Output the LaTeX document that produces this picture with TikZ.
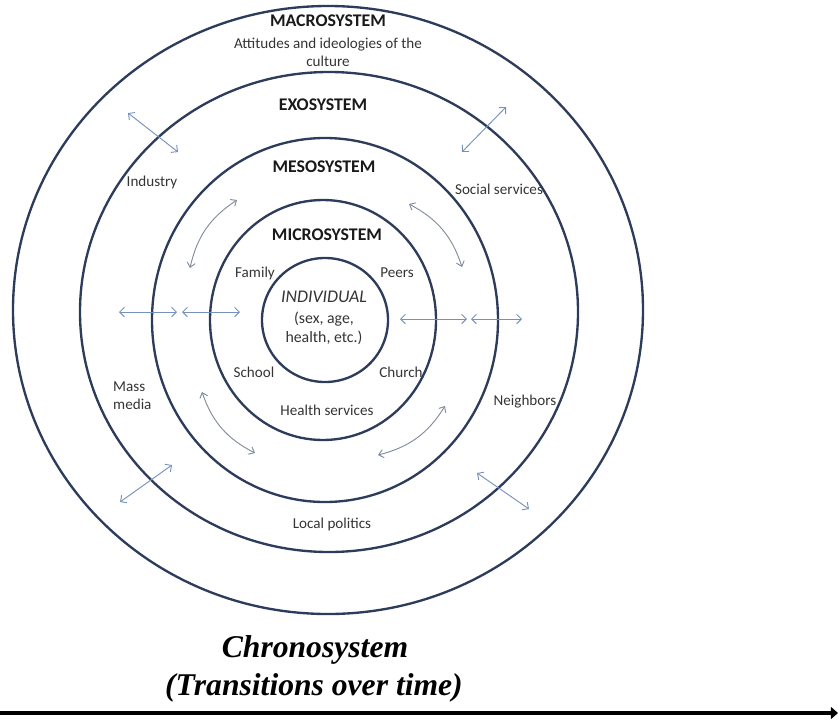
\documentclass[tikz,border=0pt]{standalone}
\usepackage{fontspec}
\setmainfont{Carlito}
\newfontfamily\timesfont{Liberation Serif}
\usetikzlibrary{arrows.meta,calc}

\definecolor{ring}{RGB}{46,60,92}
\definecolor{linkblue}{RGB}{118,146,186}
\definecolor{linkgray}{RGB}{130,140,156}
\definecolor{headtext}{RGB}{25,25,25}
\definecolor{labeltext}{RGB}{52,52,52}

\tikzset{
  ringline/.style={draw=ring, line width=2pt},
  heading/.style={font=\fontsize{15.2}{18}\selectfont\bfseries, text=headtext, inner sep=0pt},
  label/.style={font=\fontsize{12.9}{15.4}\selectfont, text=labeltext, inner sep=0pt, align=center},
  tie/.style={draw=linkblue, line width=0.8pt, {Straight Barb[length=4pt,width=8pt]}-{Straight Barb[length=4pt,width=8pt]}},
  swing/.style={draw=linkgray, line width=0.8pt, {Straight Barb[length=4pt,width=7pt]}-{Straight Barb[length=4pt,width=7pt]}},
  chrono/.style={font=\timesfont\fontsize{27}{32}\selectfont\bfseries\itshape, inner sep=0pt}
}

\begin{document}
\begin{tikzpicture}[x=0.03cm,y=-0.03cm]
\useasboundingbox (0,0) rectangle (838,719);

% nested system rings
\draw[ringline] (328,310) ellipse[x radius=315, y radius=304];
\draw[ringline] (329,312) ellipse[x radius=249, y radius=240];
\draw[ringline] (325,320) ellipse[x radius=173, y radius=182];
\draw[ringline] (323,320) ellipse[x radius=113, y radius=120];
\draw[ringline] (325,320) ellipse[x radius=63, y radius=62];

% ring headings
\node[heading] (macro) at (328,21) {MACROSYSTEM};
\node[label] (macrotxt) at (328,52) {Attitudes and ideologies of the\\culture};
\node[heading] (exo) at (323,105) {EXOSYSTEM};
\node[heading] (meso) at (324,167) {MESOSYSTEM};
\node[heading] (micro) at (327,235) {MICROSYSTEM};

% centre
\node[font=\fontsize{15.2}{18}\selectfont\itshape, text=labeltext, inner sep=0pt] (indiv) at (324,297) {INDIVIDUAL};
\node[label, font=\fontsize{13.5}{16.5}\selectfont] (traits) at (324,328) {(sex, age,\\health, etc.)};

% microsystem settings
\node[label] (family) at (255,273) {Family};
\node[label] (peers) at (397,273) {Peers};
\node[label] (school) at (254,372) {School};
\node[label] (church) at (401,372) {Church};
\node[label] (health) at (327,410) {Health services};

% exosystem settings
\node[label] (industry) at (152,182) {Industry};
\node[label] (social) at (499,189) {Social services};
\node[label, align=left, anchor=west] (media) at (113,396) {Mass\\media};
\node[label] (neigh) at (525,402) {Neighbors};
\node[label] (politics) at (332,524) {Local politics};

% straight two-way links
\coordinate (ind1) at (128,113); \coordinate (ind2) at (178,152);
\coordinate (soc1) at (462,152); \coordinate (soc2) at (506,107);
\coordinate (mm1) at (120,502); \coordinate (mm2) at (172,465);
\coordinate (nb1) at (477,473); \coordinate (nb2) at (529,509);
\coordinate (hl1) at (119,312); \coordinate (hl2) at (177,312);
\coordinate (hl3) at (182,312); \coordinate (hl4) at (240,312);
\coordinate (hr1) at (400,319); \coordinate (hr2) at (467,319);
\coordinate (hr3) at (471,319); \coordinate (hr4) at (522,319);
\draw[tie] (ind1) -- (ind2);
\draw[tie] (soc1) -- (soc2);
\draw[tie] (mm1) -- (mm2);
\draw[tie] (nb1) -- (nb2);
\draw[tie] (hl1) -- (hl2);
\draw[tie] (hl3) -- (hl4);
\draw[tie] (hr1) -- (hr2);
\draw[tie] (hr3) -- (hr4);

% curved links around the mesosystem
\coordinate (ula) at (190,268); \coordinate (ulb) at (237,200);
\coordinate (ura) at (409,204); \coordinate (urb) at (462,267);
\coordinate (lla) at (202,392); \coordinate (llb) at (255,453);
\coordinate (lra) at (378,455); \coordinate (lrb) at (445,406);
\draw[swing] (ula) to[bend left=22] (ulb);
\draw[swing] (ura) to[bend left=22] (urb);
\draw[swing] (lla) to[bend right=22] (llb);
\draw[swing] (lra) to[bend right=22] (lrb);

% chronosystem
\node[chrono] (chrono) at (315,650) {Chronosystem};
\node[chrono] (trans) at (314,688) {(Transitions over time)};
\coordinate (t0) at (0,713);
\coordinate (t1) at (838,713);
\draw[line width=3pt, -{Triangle[length=6pt,width=10pt]}] (t0) -- (t1);
\end{tikzpicture}
\end{document}
